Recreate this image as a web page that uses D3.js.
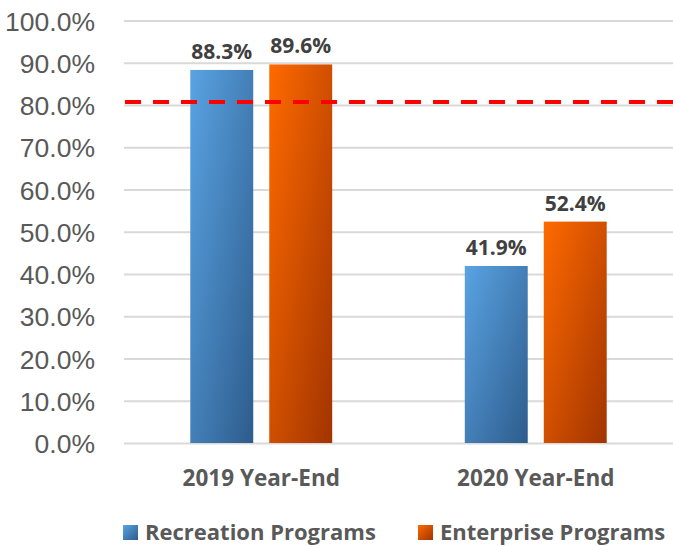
<!DOCTYPE html>
<html>
<head>
<meta charset="utf-8">
<script src="https://cdn.jsdelivr.net/npm/d3@7"></script>
<style>
  html, body { margin: 0; padding: 0; background: #ffffff; }
  svg { display: block; }
</style>
</head>
<body>
<svg id="chart" width="673" height="546"></svg>
<script>
// ---- data ----
const categories = ["2019 Year-End", "2020 Year-End"];
const seriesNames = ["Recreation Programs", "Enterprise Programs"];
const recreationValues = [88.3, 41.9];
const enterpriseValues = [89.6, 52.4];
const targetValue = 80.7;
const yTicks = [0, 10, 20, 30, 40, 50, 60, 70, 80, 90, 100];

const seriesValues = [recreationValues, enterpriseValues];
const gradStops = [
  ["#5AA3E3", "#2D5C8C"],
  ["#FF6A00", "#A13400"]
];

// ---- layout ----
const plot = { left: 124, right: 673, top: 20.5, bottom: 443 };

const svg = d3.select("#chart");
const defs = svg.append("defs");
seriesNames.forEach((s, i) => {
  const g = defs.append("linearGradient")
    .attr("id", "grad" + i)
    .attr("x1", 0).attr("y1", 0).attr("x2", 1).attr("y2", 1);
  g.append("stop").attr("offset", "0%").attr("stop-color", gradStops[i][0]);
  g.append("stop").attr("offset", "100%").attr("stop-color", gradStops[i][1]);
});

const y = d3.scaleLinear().domain([0, 100]).range([plot.bottom, plot.top]);
const x0 = d3.scaleBand().domain(categories)
  .range([plot.left, plot.right]).paddingInner(0.483).paddingOuter(0.2415);
const x1 = d3.scaleBand().domain(seriesNames)
  .range([0, x0.bandwidth()]).paddingInner(0.203).paddingOuter(0);

// gridlines + y labels via axis
const yAxis = d3.axisLeft(y).tickValues(yTicks)
  .tickSize(-(plot.right - plot.left))
  .tickFormat(d => d3.format(".1f")(d) + "%");
const ga = svg.append("g").attr("transform", `translate(${plot.left},0)`).call(yAxis);
ga.select(".domain").remove();
ga.selectAll(".tick line").attr("stroke", "#d9d9d9").attr("stroke-width", 2);
ga.selectAll(".tick text")
  .attr("x", -29)
  .attr("dy", "0.36em")
  .attr("fill", "#595959")
  .style("font-family", "'Liberation Sans', Arial, sans-serif")
  .style("font-size", "26.5px");

// bars
const groups = svg.append("g").selectAll("g")
  .data(categories).join("g")
  .attr("transform", d => `translate(${x0(d)},0)`);

groups.each(function(cat, ci) {
  const g = d3.select(this);
  seriesNames.forEach((s, si) => {
    const v = seriesValues[si][ci];
    g.append("rect")
      .attr("x", x1(s))
      .attr("y", y(v))
      .attr("width", x1.bandwidth())
      .attr("height", y(0) - y(v))
      .attr("fill", `url(#grad${si})`);
    g.append("text")
      .attr("x", x1(s) + x1.bandwidth() / 2)
      .attr("y", y(v) - 11)
      .attr("text-anchor", "middle")
      .attr("fill", "#404040")
      .style("font-family", "'Open Sans', sans-serif")
      .style("font-weight", "bold")
      .style("font-size", "21px")
      .text(d3.format(".1f")(v) + "%");
  });
});

// target dashed line
svg.append("line")
  .attr("x1", plot.left + 1).attr("x2", plot.right)
  .attr("y1", y(targetValue)).attr("y2", y(targetValue))
  .attr("stroke", "#ff0000")
  .attr("stroke-width", 4)
  .attr("stroke-dasharray", "16,12");

// category labels
const xAxis = d3.axisBottom(x0).tickSize(0).tickPadding(0);
const gx = svg.append("g").attr("transform", `translate(0,${plot.bottom})`).call(xAxis);
gx.select(".domain").remove();
gx.selectAll(".tick text")
  .attr("y", 43)
  .attr("dy", 0)
  .attr("fill", "#595959")
  .style("font-family", "'Open Sans', sans-serif")
  .style("font-weight", "bold")
  .style("font-size", "22.5px");

// legend
const legendX = [123, 418];
const leg = svg.append("g").selectAll("g").data(seriesNames).join("g")
  .attr("transform", (d, i) => `translate(${legendX[i]},525)`);
leg.append("rect").attr("width", 15).attr("height", 15)
  .attr("fill", (d, i) => `url(#grad${i})`);
leg.append("text")
  .attr("x", 22).attr("y", 15)
  .attr("fill", "#595959")
  .style("font-family", "'Open Sans', sans-serif")
  .style("font-weight", "bold")
  .style("font-size", "22px")
  .text(d => d);
</script>
</body>
</html>
